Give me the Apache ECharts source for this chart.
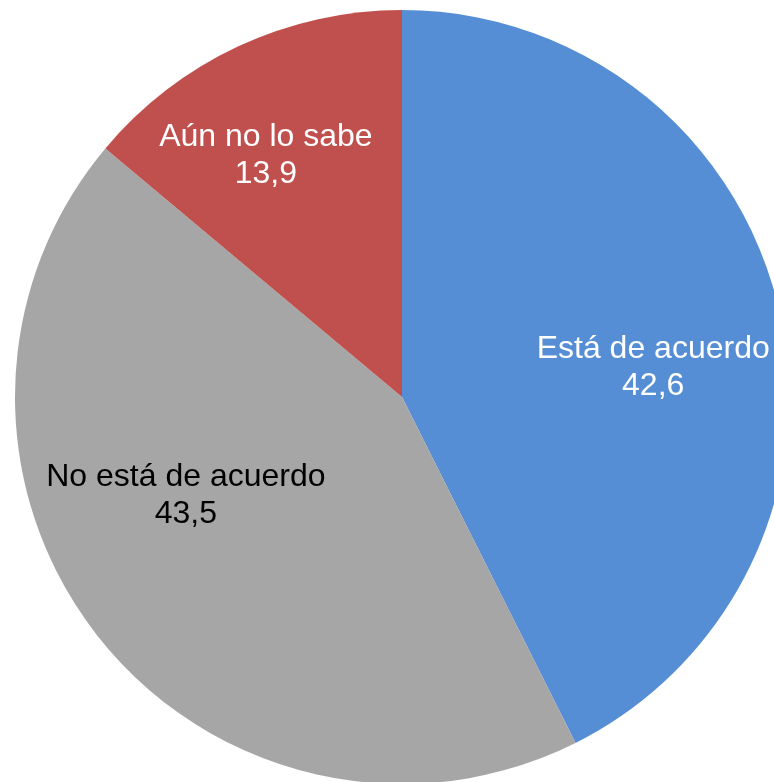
<!DOCTYPE html>
<html>
<head>
<meta charset="utf-8">
<script src="https://cdn.jsdelivr.net/npm/echarts@6/dist/echarts.min.js"></script>
<style>
html,body{margin:0;padding:0;background:#fff;}
#chart{width:774px;height:782px;}
</style>
</head>
<body>
<div id="chart"></div>
<script>
const categories = ['Está de acuerdo', 'No está de acuerdo', 'Aún no lo sabe'];
const values = [42.6, 43.5, 13.9];
const colors = ['#558ED5', '#A6A6A6', '#C0504D'];
const labelColors = ['#ffffff', '#000000', '#ffffff'];
const labelOffsets = [[60, 16], [-62, -23], [-53, -63]];

const fmt = v => v.toFixed(1).replace('.', ',');

const chart = echarts.init(document.getElementById('chart'));
chart.setOption({
  animation: false,
  backgroundColor: '#ffffff',
  series: [{
    type: 'pie',
    center: [402, 397],
    radius: 387,
    startAngle: 90,
    clockwise: true,
    avoidLabelOverlap: false,
    data: categories.map((c, i) => ({
      name: c,
      value: values[i],
      itemStyle: { color: colors[i] },
      label: { color: labelColors[i], offset: labelOffsets[i] }
    })),
    itemStyle: { borderWidth: 0 },
    label: {
      show: true,
      position: 'inside',
      fontFamily: 'Liberation Sans, Arial, sans-serif',
      fontSize: 32,
      lineHeight: 37,
      align: 'center',
      formatter: p => p.name + '\n' + fmt(p.value)
    },
    labelLine: { show: false },
    emphasis: { disabled: true }
  }]
});
</script>
</body>
</html>
